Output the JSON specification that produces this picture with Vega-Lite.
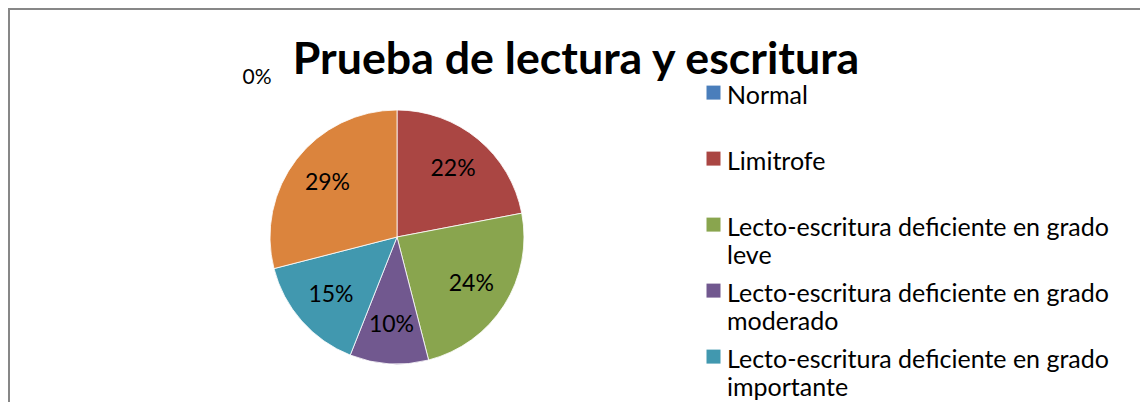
{
  "$schema": "https://vega.github.io/schema/vega-lite/v6.json",
  "width": 1134,
  "height": 470,
  "padding": {"left": 9, "top": 9, "right": 0, "bottom": 0},
  "background": "white",
  "view": {"stroke": "#878787", "strokeWidth": 2},
  "config": {
    "view": {"stroke": "#878787", "strokeWidth": 2},
    "font": "Lato",
    "style": {"guide-label": {"lineHeight": 28}}
  },
  "title": {
    "text": "Prueba de lectura y escritura",
    "font": "Lato",
    "fontSize": 44.7,
    "fontWeight": "bold",
    "color": "#000000",
    "anchor": "middle",
    "frame": "group",
    "baseline": "alphabetic",
    "offset": -110
  },
  "data": {
    "values": [
      {"cat": "Normal", "share": 0.0, "order": 1},
      {"cat": "Limitrofe", "share": 0.22, "order": 2},
      {"cat": "Lecto-escritura deficiente en grado leve", "share": 0.24, "order": 3},
      {"cat": "Lecto-escritura deficiente en grado moderado", "share": 0.10, "order": 4},
      {"cat": "Lecto-escritura deficiente en grado importante", "share": 0.15, "order": 5},
      {"cat": "Lecto-escritura deficiente en grado severo", "share": 0.29, "order": 6}
    ]
  },
  "layer": [
    {
      "mark": {"type": "arc", "outerRadius": 127, "stroke": "#ffffff", "strokeWidth": 0.8, "x": 388, "y": 228},
      "encoding": {
        "theta": {"field": "share", "type": "quantitative", "stack": true},
        "order": {"field": "order", "type": "quantitative"},
        "color": {
          "field": "cat",
          "type": "nominal",
          "scale": {
            "domain": ["Normal", "Limitrofe", "Lecto-escritura deficiente en grado leve", "Lecto-escritura deficiente en grado moderado", "Lecto-escritura deficiente en grado importante", "Lecto-escritura deficiente en grado severo"],
            "range": ["#4A7EBB", "#AA4643", "#89A54E", "#71588F", "#4198AF", "#DB843D"]
          },
          "legend": {
            "title": null,
            "orient": "none",
            "legendX": 692,
            "legendY": 62,
            "symbolType": "M-1,0.3H1V2.3H-1Z",
            "symbolSize": 196,
            "symbolStrokeWidth": 0,
            "symbolBaseline": "top",
            "labelBaseline": "top",
            "labelFont": "Lato",
            "labelFontSize": 25,
            "labelColor": "#000000",
            "labelLimit": 0,
            "labelOffset": 1,
            "rowPadding": 0,
            "labelExpr": "indexof(datum.label, 'grado ') > 0 ? [substring(datum.label, 0, indexof(datum.label, 'grado ') + 5), substring(datum.label, indexof(datum.label, 'grado ') + 6)] : [datum.label, '']"
          }
        }
      }
    },
    {
      "transform": [{"filter": "datum.share > 0"}],
      "mark": {"type": "text", "x": 388, "y": 228, "font": "Lato", "fontSize": 23, "color": "#000000"},
      "encoding": {
        "theta": {"field": "share", "type": "quantitative", "stack": true},
        "order": {"field": "order", "type": "quantitative"},
        "radius": {"condition": {"test": "datum.share < 0.12", "value": 99}, "value": 88},
        "text": {"field": "share", "type": "quantitative", "format": ".0%"}
      }
    },
    {
      "transform": [{"filter": "datum.share == 0"}],
      "mark": {"type": "text", "x": 388, "y": 228, "dx": -140, "dy": -159, "font": "Lato", "fontSize": 21, "color": "#000000"},
      "encoding": {
        "text": {"field": "share", "type": "quantitative", "format": ".0%"}
      }
    }
  ]
}
